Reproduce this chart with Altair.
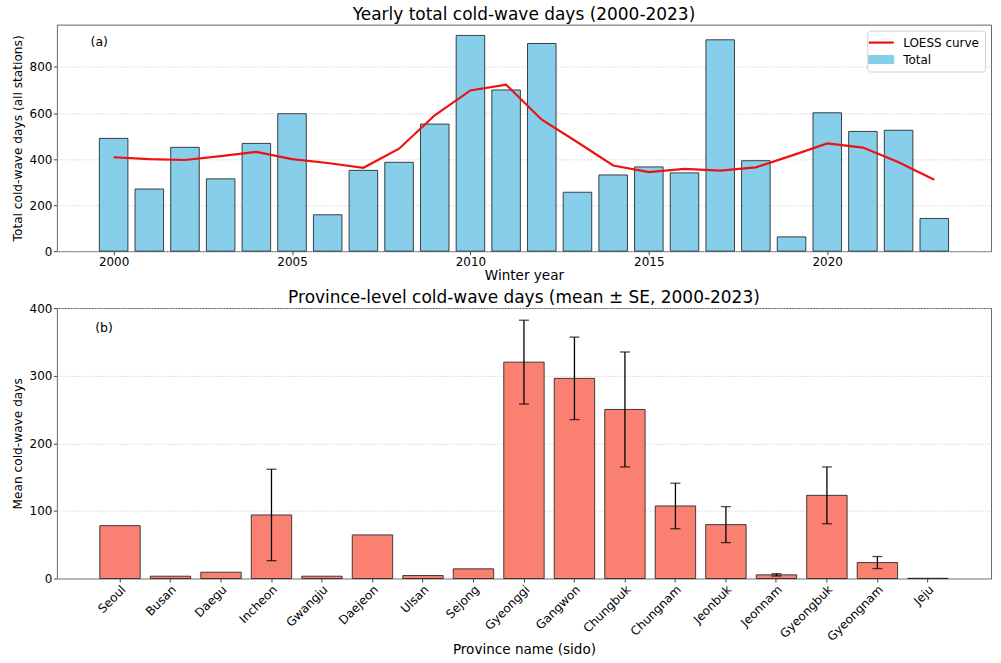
import altair as alt
import pandas as pd

# ---- data ----
years = list(range(2000, 2024))
totals = [490, 270, 451, 314, 468, 597, 158, 351, 386, 552, 937, 700,
          902, 256, 331, 366, 340, 918, 393, 62, 601, 520, 525, 142]
loess = [408, 400, 396, 413, 431, 400, 383, 362, 445, 590, 698, 723,
         571, 473, 372, 343, 357, 350, 364, 415, 468, 450, 386, 310]

provinces = ["Seoul", "Busan", "Daegu", "Incheon", "Gwangju", "Daejeon", "Ulsan",
             "Sejong", "Gyeonggi", "Gangwon", "Chungbuk", "Chungnam", "Jeonbuk",
             "Jeonnam", "Gyeongbuk", "Gyeongnam", "Jeju"]
means = [78.2, 3.4, 9.3, 94.0, 3.4, 64.5, 4.4, 14.3, 320.0, 296.0, 250.0,
         107.3, 79.7, 5.4, 123.0, 23.6, 0.3]
ses = [None, None, None, 67.6, None, None, None, None, 62.0, 61.0, 85.0,
       33.7, 26.6, 1.7, 42.0, 8.9, None]

FONT = "DejaVu Sans"
W = 936
H1 = 227
H2 = 271

yearly = pd.DataFrame({"year": years, "total": totals, "loess": loess})
prov = pd.DataFrame({"province": provinces, "mean": means, "se": ses})

# ---- top panel ----
xscale = alt.Scale(domain=[1998.41, 2024.59], nice=False, zero=False)
yscale1 = alt.Scale(domain=[0, 984], nice=False)

legend = alt.Legend(
    title=None, orient="top-right", offset=6,
    fillColor="white", strokeColor="#d0d0d0", cornerRadius=3, padding=6,
    labelFont=FONT, labelFontSize=12, labelColor="black",
    symbolSize=625, rowPadding=5, labelOffset=16, symbolOffset=2, symbolOpacity=1,
    symbolType=alt.ExprRef("datum.value === 'Total' ? 'M-1,-0.32H1V0.32H-1Z' : 'M-1,0H1'"),
    symbolStrokeColor=alt.ExprRef("datum.value === 'Total' ? '#333333' : '#ee1111'"),
    symbolStrokeWidth=alt.ExprRef("datum.value === 'Total' ? 1 : 2.2"),
    symbolFillColor=alt.ExprRef("datum.value === 'Total' ? '#87ceeb' : 'transparent'"),
)
color_scale = alt.Scale(domain=["LOESS curve", "Total"], range=["#ee1111", "#87ceeb"])

base1 = alt.Chart(yearly)

bars1 = base1.transform_calculate(
    x0="datum.year - 0.4", x1="datum.year + 0.4", series="'Total'"
).mark_bar(stroke="#222222", strokeWidth=1, strokeOpacity=0.85).encode(
    x=alt.X("x0:Q", scale=xscale,
            axis=alt.Axis(title="Winter year", values=[2000, 2005, 2010, 2015, 2020],
                          format="d", grid=False, titleFontSize=13.6, titlePadding=1)),
    x2="x1:Q",
    y=alt.Y("total:Q", scale=yscale1,
            axis=alt.Axis(title="Total cold-wave days (all stations)",
                          values=[0, 200, 400, 600, 800], titleFontSize=12.2)),
    y2=alt.datum(0),
    color=alt.Color("series:N", scale=color_scale, legend=legend),
)

line1 = base1.transform_calculate(series="'LOESS curve'").mark_line(strokeWidth=2.2).encode(
    x=alt.X("year:Q", scale=xscale),
    y=alt.Y("loess:Q", scale=yscale1),
    color=alt.Color("series:N", scale=color_scale, legend=legend),
)

label_a = alt.Chart(pd.DataFrame({"t": ["(a)"]})).mark_text(
    font=FONT, fontSize=12.5, align="left", baseline="top", color="black"
).encode(x=alt.value(0.036 * W), y=alt.value(0.05 * H1), text="t:N")

top = alt.layer(bars1, line1, label_a).properties(
    width=W, height=H1,
    title=alt.TitleParams("Yearly total cold-wave days (2000-2023)", fontSize=17,
                          font=FONT, fontWeight="normal", offset=1)
)

# ---- bottom panel ----
xscale2 = alt.Scale(domain=provinces, paddingInner=0.2, paddingOuter=0.85)
yscale2 = alt.Scale(domain=[0, 400], nice=False)

base2 = alt.Chart(prov)
xenc = alt.X("province:N", scale=xscale2, sort=provinces,
             axis=alt.Axis(title="Province name (sido)", labelAngle=-45,
                           labelAlign="right", labelBaseline="top", grid=False,
                           titleFontSize=13.6, titlePadding=0))

bars2 = base2.mark_bar(color="#fa8072", stroke="#222222", strokeWidth=1,
                       strokeOpacity=0.85).encode(
    x=xenc,
    y=alt.Y("mean:Q", scale=yscale2,
            axis=alt.Axis(title="Mean cold-wave days", values=list(range(0, 401, 50)),
                          titleFontSize=12.2)),
)

err = base2.transform_filter("isValid(datum.se)").transform_calculate(
    lo="datum.mean - datum.se", hi="datum.mean + datum.se"
)
rule2 = err.mark_rule(color="black", strokeWidth=1.3).encode(
    x=alt.X("province:N", scale=xscale2, sort=provinces),
    y=alt.Y("lo:Q", scale=yscale2), y2="hi:Q")
cap_lo = err.mark_tick(color="black", thickness=1.3, size=10, orient="horizontal").encode(
    x=alt.X("province:N", scale=xscale2, sort=provinces),
    y=alt.Y("lo:Q", scale=yscale2))
cap_hi = err.mark_tick(color="black", thickness=1.3, size=10, orient="horizontal").encode(
    x=alt.X("province:N", scale=xscale2, sort=provinces),
    y=alt.Y("hi:Q", scale=yscale2))

label_b = alt.Chart(pd.DataFrame({"t": ["(b)"]})).mark_text(
    font=FONT, fontSize=12.5, align="left", baseline="top", color="black"
).encode(x=alt.value(0.041 * W), y=alt.value(0.05 * H2), text="t:N")

bottom = alt.layer(bars2, rule2, cap_lo, cap_hi, label_b).properties(
    width=W, height=H2,
    title=alt.TitleParams("Province-level cold-wave days (mean ± SE, 2000-2023)",
                          fontSize=17, font=FONT, fontWeight="normal", offset=-5)
)

chart = alt.vconcat(top, bottom, spacing=5).properties(
    padding={"left": 10, "right": 9, "top": 4, "bottom": 4}
).configure(
    font=FONT, background="white"
).configure_view(
    stroke="#666666", strokeWidth=1
).configure_axis(
    labelFont=FONT, titleFont=FONT, labelFontSize=12, labelColor="black",
    titleColor="black", titleFontWeight="normal", domain=False,
    tickColor="#444444", tickSize=3.5, labelPadding=1.5, titlePadding=5,
    gridColor="#cccccc", gridDash=[1.5, 1.5], gridWidth=0.8
).configure_axisX(grid=False)

chart.save("out.html", embed_options={"renderer": "svg", "actions": False})
